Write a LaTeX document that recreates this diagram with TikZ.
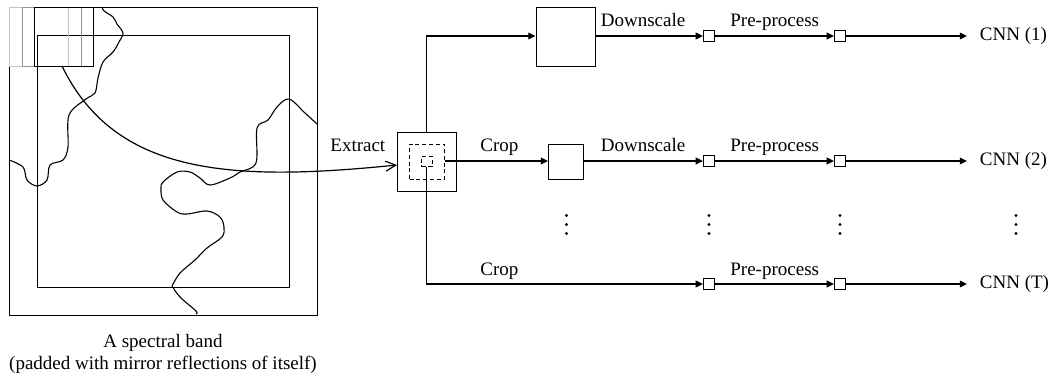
\documentclass[tikz,border=0pt]{standalone}
\usepackage{fontspec}
\setmainfont{Liberation Serif}
\usepackage{xcolor}
\usetikzlibrary{arrows.meta, positioning, calc}
\definecolor{ghostlight}{RGB}{195,195,195}
\definecolor{ghostmid}{RGB}{150,150,150}
\tikzset{
    band/.style={
        rectangle,
        draw=black,
        line width=0.6pt,
        minimum width=#1*0.5pt,
        minimum height=#1*0.5pt,
        inner sep=0pt,
        anchor=north west
    },
    dashbox/.style={
        band=#1,
        dashed,
        dash pattern=on 2pt off 1.4pt
    },
    port/.style={
        band=11,
        anchor=center,
        fill=white
    },
    connection/.style={
        draw=black,
        line width=0.6pt,
        -{Triangle[length=3.6pt,width=3.4pt]}
    },
    coast/.style={
        draw=black,
        line width=0.55pt,
        smooth,
        tension=0.55
    },
    label/.style={
        font=\fontsize{9.5}{10.8}\selectfont,
        inner sep=0pt
    }
}
\begin{document}
\begin{tikzpicture}[x=0.5pt, y=-0.5pt]
\useasboundingbox (0,0) rectangle (1048,381);
% Spectral band
\node[band=308] (outer) at (9,7) {};
\node[band=252] (inner) at (36.5,34.5) {};
\node[band=59, draw=ghostlight] (ghostA) at (9,7) {};
\node[band=59, draw=ghostmid] (ghostB) at (22,7) {};
\node[band=59] (window) at (33.5,7) {};
\draw[coast] plot coordinates {(102,7) (104,11) (113,17) (117,24) (123,33) (119,42) (113,52) (103,62) (98,78) (95,93) (86,99) (69,115) (68,147) (63,160) (50,165) (47,180) (37,186) (27,180) (23,167) (9,160)};
\draw[coast] plot coordinates {(317,124) (305,113) (289,99) (277,107) (268,120) (257,128) (256,163) (240,172) (230,178) (210,185) (200,178) (190,172) (177,172) (163,182) (161,188) (163,200) (177,212) (187,214) (207,211) (220,217) (224,227) (222,237) (207,248) (195,260) (180,273) (172,286)};
\draw[coast] plot coordinates {(172,286) (180,297) (196,311) (196,314)};
\node[label, align=center] (caption) at (163,354) {A spectral band\\(padded with mirror reflections of itself)};
% Extracted patch
\node[band=59] (patch) at (397,131.5) {};
\node[dashbox=35] (mid) at (409,143.5) {};
\node[dashbox=10.5] (core) at (421,155.5) {};
\node[label, anchor=base west] (extract) at (330,151.5) {Extract};
\draw[line width=0.6pt, -{Straight Barb[length=5pt,width=5pt]}] (62,66) .. controls (115,175) and (230,182) .. (patch.west |- 0,165);
% Row 1
\node[band=59] (top) at (535.5,6.5) {};
\node[port] (topA) at (709,36) {};
\node[port] (topB) at (840,36) {};
\coordinate (topC) at (967,36);
\node[label, anchor=west] (cnnA) at (979.5,36) {CNN (1)};
\draw[connection] (patch.north -| core.south) |- (top.west |- 0,36);
\draw[connection] (top.east |- 0,36) -- (topA);
\draw[connection] (topA) -- (topB);
\draw[connection] (topB) -- (topC);
\node[label, anchor=base west] at (600.5,26) {Downscale};
\node[label, anchor=base west] at (730,26) {Pre-process};
% Row 2
\node[band=35] (crop) at (548,143.5) {};
\node[port] (midA) at (709,161) {};
\node[port] (midB) at (840,161) {};
\coordinate (midC) at (967,161);
\node[label, anchor=west] (cnnB) at (979.5,161) {CNN (2)};
\draw[connection] (mid.east |- 0,161) -- (crop.west |- 0,161);
\draw[connection] (crop.east |- 0,161) -- (midA);
\draw[connection] (midA) -- (midB);
\draw[connection] (midB) -- (midC);
\node[label, anchor=base west] at (480,151) {Crop};
\node[label, anchor=base west] at (600.5,151) {Downscale};
\node[label, anchor=base west] at (730,151) {Pre-process};
% Dots
\foreach \x in {566.5,709,840,1016}{
    \foreach \y in {215.5,224.5,233.5}{
        \fill (\x,\y) circle (0.8pt);
    }
}
% Row 3
\node[port] (lowA) at (709,284) {};
\node[port] (lowB) at (840,284) {};
\coordinate (lowC) at (967,284);
\node[label, anchor=west] (cnnC) at (979.5,284) {CNN (T)};
\draw[connection] (core.south) |- (lowA);
\draw[connection] (lowA) -- (lowB);
\draw[connection] (lowB) -- (lowC);
\node[label, anchor=base west] at (480,275) {Crop};
\node[label, anchor=base west] at (730,275) {Pre-process};
\end{tikzpicture}
\end{document}
